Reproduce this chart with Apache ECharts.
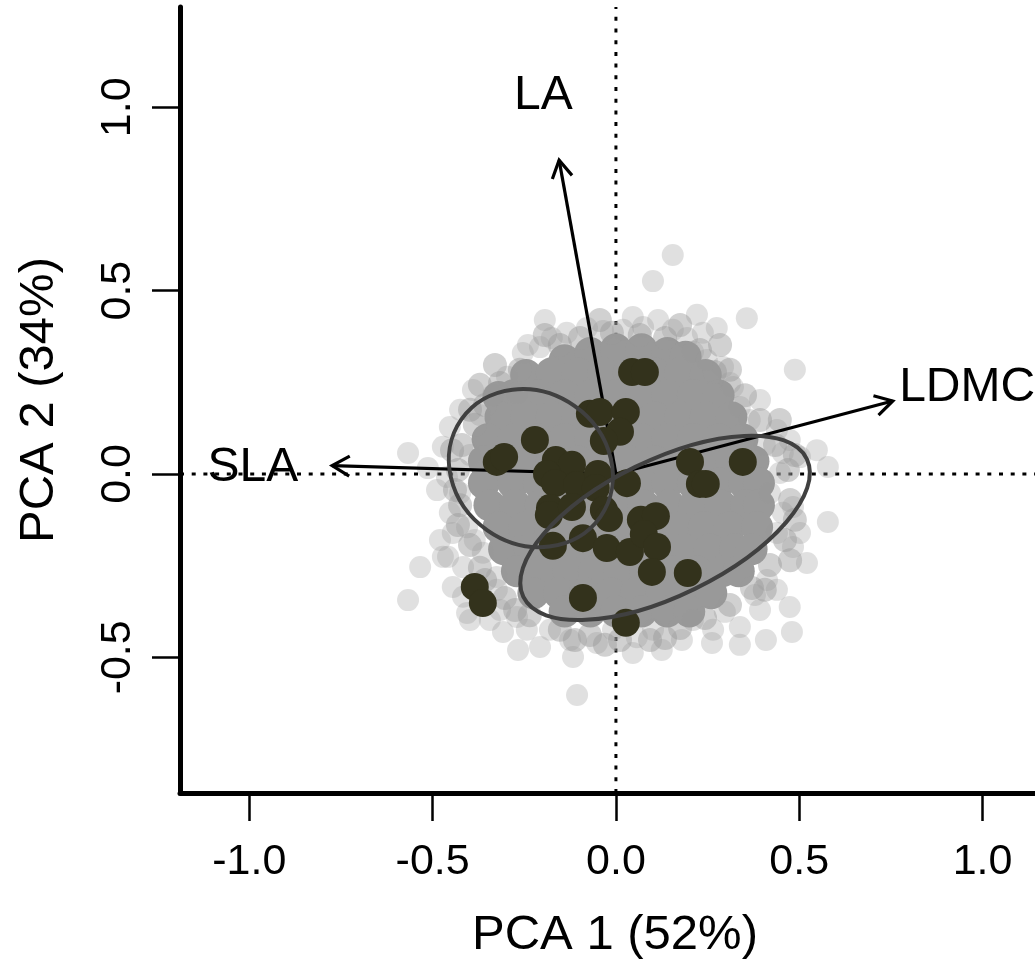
<!DOCTYPE html>
<html>
<head>
<meta charset="utf-8">
<script src="https://cdn.jsdelivr.net/npm/echarts@6/dist/echarts.min.js"></script>
<style>
  html, body { margin: 0; padding: 0; background: #fff; }
  #chart { width: 1035px; height: 964px; }
</style>
</head>
<body>
<div id="chart"></div>
<script>
// axis ticks
const xTicks = [-1.0, -0.5, 0.0, 0.5, 1.0];
const yTicks = [-0.5, 0.0, 0.5, 1.0];

// grey cloud, dense middle part
const cloudCore = [
  [-0.14, 0.31], [-0.07, 0.33], [0, 0.34], [0.07, 0.34], [0.14, 0.33], [0.19, 0.32],
  [-0.245, 0.27], [-0.175, 0.275], [-0.105, 0.275], [-0.035, 0.275], [0.035, 0.275], [0.105, 0.275], [0.175, 0.275], [0.245, 0.27],
  [-0.32, 0.21], [-0.28, 0.215], [-0.21, 0.215], [-0.14, 0.215], [-0.07, 0.215], [0, 0.215], [0.07, 0.215], [0.14, 0.215], [0.21, 0.215], [0.28, 0.215],
  [-0.315, 0.155], [-0.245, 0.155], [-0.175, 0.155], [-0.105, 0.155], [-0.035, 0.155], [0.035, 0.155], [0.105, 0.155], [0.175, 0.155], [0.245, 0.155], [0.315, 0.155],
  [-0.35, 0.095], [-0.28, 0.095], [-0.21, 0.095], [-0.14, 0.095], [-0.07, 0.095], [0, 0.095], [0.07, 0.095], [0.14, 0.095], [0.21, 0.095], [0.28, 0.095], [0.345, 0.095],
  [-0.36, 0.035], [-0.315, 0.035], [-0.245, 0.035], [-0.175, 0.035], [-0.105, 0.035], [-0.035, 0.035], [0.035, 0.035], [0.105, 0.035], [0.175, 0.035], [0.245, 0.035], [0.315, 0.035], [0.375, 0.035],
  [-0.36, -0.025], [-0.28, -0.025], [-0.21, -0.025], [-0.14, -0.025], [-0.07, -0.025], [0, -0.025], [0.07, -0.025], [0.14, -0.025], [0.21, -0.025], [0.28, -0.025], [0.35, -0.025], [0.39, -0.025],
  [-0.345, -0.085], [-0.275, -0.085], [-0.205, -0.085], [-0.135, -0.085], [-0.065, -0.085], [0.005, -0.085], [0.075, -0.085], [0.145, -0.085], [0.215, -0.085], [0.285, -0.085], [0.355, -0.085], [0.39, -0.085],
  [-0.32, -0.145], [-0.25, -0.145], [-0.18, -0.145], [-0.11, -0.145], [-0.04, -0.145], [0.03, -0.145], [0.10, -0.145], [0.17, -0.145], [0.24, -0.145], [0.31, -0.145], [0.385, -0.145],
  [-0.305, -0.205], [-0.235, -0.205], [-0.165, -0.205], [-0.095, -0.205], [-0.025, -0.205], [0.045, -0.205], [0.115, -0.205], [0.185, -0.205], [0.255, -0.205], [0.325, -0.205], [0.37, -0.205],
  [-0.27, -0.265], [-0.20, -0.265], [-0.13, -0.265], [-0.06, -0.265], [0.01, -0.265], [0.08, -0.265], [0.15, -0.265], [0.22, -0.265], [0.29, -0.265], [0.335, -0.265],
  [-0.225, -0.325], [-0.155, -0.325], [-0.085, -0.325], [-0.015, -0.325], [0.055, -0.325], [0.125, -0.325], [0.195, -0.325], [0.26, -0.325],
  [-0.14, -0.375], [-0.07, -0.375], [0, -0.375], [0.07, -0.375], [0.14, -0.375], [0.20, -0.375]
];

// grey cloud, band just outside the dense part
const cloudBand = [
  [-0.153, 0.352], [-0.098, 0.371], [-0.011, 0.385], [0.065, 0.379], [0.134, 0.371], [0.229, 0.338],
  [0.270, 0.278], [-0.262, 0.284], [-0.316, 0.248], [-0.357, 0.188], [-0.385, 0.134], [-0.420, 0.079],
  [-0.431, 0.011], [-0.425, -0.085], [-0.398, -0.194], [-0.371, -0.256], [-0.303, -0.338], [-0.235, -0.385],
  [-0.153, -0.425], [-0.071, -0.439], [0.011, -0.453], [0.093, -0.453], [0.175, -0.420], [0.243, -0.393],
  [0.311, -0.357], [0.371, -0.311], [0.420, -0.248], [0.461, -0.180], [0.475, -0.071], [0.469, 0.011],
  [0.434, 0.079], [0.393, 0.147], [0.352, 0.215], [0.311, 0.284],
  [-0.330, 0.297], [-0.371, 0.243], [-0.398, 0.175], [-0.439, -0.044], [-0.447, 0.065], [-0.431, -0.139],
  [-0.357, -0.289], [-0.275, -0.371], [-0.112, -0.453], [-0.030, -0.466], [0.134, -0.447], [0.488, -0.125],
  [0.475, -0.235], [0.406, -0.316], [0.447, 0.147], [0.488, 0.052], [-0.044, 0.420], [0.175, 0.406],
  [0.284, 0.352], [-0.194, 0.379]
];

// grey cloud, sparse outer points
const cloudRim = [
  [0.155, 0.597], [0.101, 0.526], [-0.194, 0.420], [0.046, 0.428], [0.115, 0.420], [0.221, 0.434],
  [0.275, 0.398], [0.357, 0.425], [-0.240, 0.352], [-0.175, 0.371], [-0.134, 0.385], [-0.079, 0.398],
  [-0.035, 0.390], [0.019, 0.393], [0.074, 0.401], [0.155, 0.393], [0.194, 0.371], [0.237, 0.385],
  [0.210, 0.333], [0.248, 0.311], [0.292, 0.292], [0.311, 0.248], [-0.297, 0.265], [-0.254, 0.330],
  [-0.270, 0.221], [-0.390, 0.229], [-0.207, 0.346], [-0.335, 0.215],
  [0.488, 0.284], [0.319, 0.237], [0.393, 0.202], [0.338, 0.183], [0.439, 0.120], [0.474, 0.093],
  [0.548, 0.065], [0.578, 0.019], [0.502, 0.046], [0.455, 0.057], [0.447, 0.003], [0.420, -0.052],
  [0.483, -0.090], [0.502, -0.161], [0.578, -0.131], [0.455, -0.106], [0.439, -0.161], [0.365, 0.147],
  [0.406, 0.079],
  [0.521, -0.243], [0.483, -0.199], [0.439, -0.316], [0.474, -0.363], [0.480, -0.431], [0.393, -0.371],
  [0.338, -0.417], [0.338, -0.466], [0.262, -0.461], [0.265, -0.425], [0.210, -0.398], [0.125, -0.480],
  [0.101, -0.425], [0.046, -0.488], [0.057, -0.445], [-0.008, -0.425], [-0.052, -0.461], [-0.117, -0.499],
  [-0.125, -0.453], [-0.180, -0.425], [-0.207, -0.472], [-0.267, -0.480], [-0.243, -0.425], [-0.308, -0.431],
  [-0.270, -0.390], [-0.316, -0.371], [-0.344, -0.398], [-0.398, -0.398], [-0.417, -0.335], [-0.445, -0.308],
  [-0.458, -0.226], [-0.417, -0.254], [-0.363, -0.215], [-0.325, -0.281], [-0.106, -0.603], [0.412, -0.289],
  [0.379, -0.330], [0.297, -0.376], [0.180, -0.453],
  [-0.567, 0.057], [-0.425, 0.175], [-0.453, 0.128], [-0.472, 0.074], [-0.461, -0.008], [-0.488, -0.044],
  [-0.425, -0.052], [-0.453, -0.106], [-0.406, -0.145], [-0.445, -0.161], [-0.480, -0.180], [-0.534, -0.254],
  [-0.472, -0.226], [-0.567, -0.344], [-0.406, -0.379], [-0.325, -0.316], [-0.371, 0.161], [-0.398, 0.052],
  [-0.385, -0.180], [-0.513, 0.016], [0.409, -0.453]
];

// highlighted observations
const samples = [
  [0.044, 0.278], [0.079, 0.278], [-0.221, 0.093], [-0.071, 0.164], [-0.044, 0.169], [0.027, 0.169],
  [0.011, 0.115], [-0.033, 0.090], [-0.325, 0.033], [-0.305, 0.046], [-0.164, 0.038], [-0.120, 0.025],
  [-0.188, 0.000], [-0.166, -0.025], [-0.106, -0.030], [-0.049, 0.000], [-0.055, -0.038], [0.030, -0.025],
  [0.202, 0.033], [0.229, -0.027], [0.245, -0.027], [0.346, 0.033], [-0.180, -0.093], [-0.183, -0.112],
  [-0.120, -0.090], [-0.033, -0.098], [-0.019, -0.120], [-0.172, -0.196], [-0.090, -0.175], [-0.025, -0.202],
  [0.038, -0.213], [0.068, -0.125], [0.109, -0.115], [0.076, -0.164], [0.112, -0.199], [0.098, -0.267],
  [0.196, -0.270], [-0.090, -0.338], [-0.385, -0.308], [-0.363, -0.352], [0.027, -0.406]
];

// trait loadings (arrow tips) and their labels
const traitNames = ['SLA', 'LA', 'LDMC'];
const traitX = [-0.774, -0.155, 0.755];
const traitY = [0.023, 0.856, 0.199];
const labelX = [-0.99, -0.198, 0.958];
const labelY = [0.018, 1.032, 0.236];

// group ellipses: centre, semi-axes, tilt (degrees)
const ellCx = [-0.232, 0.134];
const ellCy = [0.016, -0.147];
const ellA = [0.2315, 0.430];
const ellB = [0.207, 0.185];
const ellAngle = [-35, 26];

const xMin = -1.189, xMax = 1.143;
const yMin = -0.870, yMax = 1.2735;
const font = "'Liberation Sans', Arial, Helvetica, sans-serif";

const chart = echarts.init(document.getElementById('chart'), null, {renderer: 'canvas'});

const option = {
  animation: false,
  backgroundColor: '#fff',
  grid: {left: 180, top: 7, right: 0, bottom: 171, containLabel: false, outerBoundsMode: 'none'},
  xAxis: {
    type: 'value', min: xMin, max: xMax,
    name: 'PCA 1 (52%)', nameLocation: 'middle', nameGap: 118,
    nameTextStyle: {fontSize: 49, color: '#000', fontFamily: font, padding: [0, 0, 0, 15]},
    axisLine: {show: true, onZero: false, lineStyle: {color: '#000', width: 5, cap: 'round'}},
    axisTick: {show: true, customValues: xTicks, length: 28, lineStyle: {color: '#000', width: 2.5}},
    axisLabel: {customValues: xTicks, fontSize: 43, color: '#000', fontFamily: font, margin: 48,
      formatter: v => v.toFixed(1)},
    splitLine: {show: false}
  },
  yAxis: {
    type: 'value', min: yMin, max: yMax,
    name: 'PCA 2 (34%)', nameLocation: 'middle', nameGap: 116,
    nameTextStyle: {fontSize: 49, color: '#000', fontFamily: font},
    axisLine: {show: true, onZero: false, lineStyle: {color: '#000', width: 5, cap: 'round'}},
    axisTick: {show: true, customValues: yTicks, length: 28, lineStyle: {color: '#000', width: 2.5}},
    axisLabel: {customValues: yTicks, fontSize: 43, color: '#000', fontFamily: font, margin: 40, rotate: 90,
      formatter: v => v.toFixed(1)},
    splitLine: {show: false}
  },
  series: [
    {
      // dotted reference lines through the origin
      type: 'line', silent: true, symbol: 'none', z: 1,
      data: [[0, yMin], [0, yMax]],
      lineStyle: {color: '#000', width: 3, type: [4, 7.7]}
    },
    {
      type: 'line', silent: true, symbol: 'none', z: 1,
      data: [[xMin, 0], [xMax, 0]],
      lineStyle: {color: '#000', width: 3, type: [4, 7.7]}
    },
    {
      type: 'scatter', silent: true, data: cloudCore, symbolSize: 32, z: 2,
      itemStyle: {color: '#999999', opacity: 1}
    },
    {
      type: 'scatter', silent: true, data: cloudBand, symbolSize: 24, z: 3,
      itemStyle: {color: '#999999', opacity: 0.45}
    },
    {
      type: 'scatter', silent: true, data: cloudRim, symbolSize: 22, z: 3,
      itemStyle: {color: '#999999', opacity: 0.3}
    },
    {
      // loading arrows
      type: 'custom', silent: true, z: 4,
      data: traitX.map((x, i) => [x, traitY[i]]),
      renderItem: (params, api) => {
        const p0 = api.coord([0, 0]);
        const p1 = api.coord([api.value(0), api.value(1)]);
        const ang = Math.atan2(p1[1] - p0[1], p1[0] - p0[0]);
        const len = 20, spread = Math.PI / 6;
        const h1 = [p1[0] - len * Math.cos(ang - spread), p1[1] - len * Math.sin(ang - spread)];
        const h2 = [p1[0] - len * Math.cos(ang + spread), p1[1] - len * Math.sin(ang + spread)];
        const st = {stroke: '#000', lineWidth: 3.2, fill: null};
        return {
          type: 'group',
          children: [
            {type: 'line', shape: {x1: p0[0], y1: p0[1], x2: p1[0], y2: p1[1]}, style: st},
            {type: 'polyline', shape: {points: [h1, p1, h2]}, style: st}
          ]
        };
      }
    },
    {
      type: 'scatter', silent: true, data: samples, symbolSize: 28, z: 5,
      itemStyle: {color: '#33321c', opacity: 1}
    },
    {
      // group ellipses
      type: 'custom', silent: true, z: 6,
      data: ellCx.map((x, i) => [x, ellCy[i], ellA[i], ellB[i], ellAngle[i]]),
      renderItem: (params, api) => {
        const c = api.coord([api.value(0), api.value(1)]);
        const s = api.size([api.value(2), api.value(3)]);
        return {
          type: 'ellipse',
          x: c[0], y: c[1],
          rotation: api.value(4) * Math.PI / 180,
          shape: {cx: 0, cy: 0, rx: s[0], ry: s[1]},
          style: {fill: null, stroke: '#404040', lineWidth: 4}
        };
      }
    },
    {
      // trait labels
      type: 'scatter', silent: true, symbolSize: 0, z: 7,
      data: labelX.map((x, i) => [x, labelY[i]]),
      label: {
        show: true, position: 'inside', fontSize: 48, color: '#000', fontFamily: font,
        textBorderWidth: 0, opacity: 1,
        formatter: p => traitNames[p.dataIndex]
      }
    }
  ]
};

chart.setOption(option);
</script>
</body>
</html>
